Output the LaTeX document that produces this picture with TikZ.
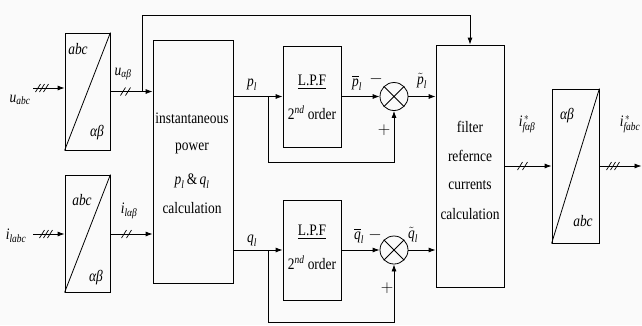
\documentclass[tikz,border=0pt]{standalone}
\usepackage{amsmath}
\usepackage{fontspec}
\setmainfont{Liberation Serif}
\usetikzlibrary{arrows.meta}
\newcommand{\vi}[1]{\textit{#1}}
\newcommand{\cn}[1]{\scalebox{0.84}[1]{#1}}
\begin{document}
\begin{tikzpicture}[x=1pt,y=-1pt, font=\fontsize{16}{18}\selectfont,
  line width=0.8pt,
  blk/.style={draw, inner sep=0pt},
  arr/.style={-{Latex[length=7pt,width=5pt]}},
  sumnode/.style={draw, circle, minimum size=28pt, inner sep=0pt},
  lbl/.style={inner sep=0pt},
  tk/.pic={\draw[line width=0.7pt] (-2.5,4) -- (2.5,-4);}]
\fill[white!98!black] (0,0) rectangle (642,325);
\useasboundingbox (0,0) rectangle (642,325);

% abc -> alpha beta blocks
\node[blk, minimum width=45pt, minimum height=117pt] (t1) at (87.5,91.5) {};
\draw (t1.south west) -- (t1.north east);
\node[lbl] (t1a) at (78,49) {\cn{\vi{abc}}};
\node[lbl] (t1b) at (97,133) {\cn{\vi{αβ}}};

\node[blk, minimum width=45pt, minimum height=117pt] (t2) at (87.5,233.5) {};
\draw (t2.south west) -- (t2.north east);
\node[lbl] (t2a) at (82,200) {\cn{\vi{abc}}};
\node[lbl] (t2b) at (96,278) {\cn{\vi{αβ}}};

% instantaneous power block
\node[blk, minimum width=80pt, minimum height=243pt] (ip) at (193,161.5) {};
\node[lbl] (ip1) at (192,118) {\cn{instantaneous}};
\node[lbl] (ip2) at (192,148) {\cn{power}};
\node[lbl] (ip3) at (192,181) {\cn{$\vi{p}_{\vi{l}}\,\&\,\vi{q}_{\vi{l}}$}};
\node[lbl] (ip4) at (192,208) {\cn{calculation}};

% LPF blocks
\node[blk, minimum width=58pt, minimum height=101pt] (l1) at (312,96.5) {};
\node[lbl] (l1a) at (312,82) {\cn{\underline{L.P.F}}};
\node[lbl] (l1b) at (312,113) {\cn{2\textsuperscript{\itshape nd} order}};
\node[blk, minimum width=58pt, minimum height=100pt] (l2) at (312,250) {};
\node[lbl] (l2a) at (312,232) {\cn{\underline{L.P.F}}};
\node[lbl] (l2b) at (312,263) {\cn{2\textsuperscript{\itshape nd} order}};

% summing junctions
\node[sumnode] (s1) at (394,96.5) {};
\draw (s1.45) -- (s1.225) (s1.135) -- (s1.-45);
\node[sumnode] (s2) at (394,250) {};
\draw (s2.45) -- (s2.225) (s2.135) -- (s2.-45);

% filter reference block
\node[blk, minimum width=68pt, minimum height=242pt] (ff) at (470,166) {};
\node[lbl] (ff1) at (470,127) {\cn{filter}};
\node[lbl] (ff2) at (470,156) {\cn{refernce}};
\node[lbl] (ff3) at (470,185) {\cn{currents}};
\node[lbl] (ff4) at (470,214) {\cn{calculation}};

% alpha beta -> abc block
\node[blk, minimum width=47pt, minimum height=154pt] (t3) at (575.5,166) {};
\draw (t3.south west) -- (t3.north east);
\node[lbl] (t3a) at (567,116) {\cn{\vi{αβ}}};
\node[lbl] (t3b) at (583,221) {\cn{\vi{abc}}};

% connectors
\coordinate (uin) at (33,88);
\draw[arr] (uin) -- (uin -| t1.west);
\coordinate (iin) at (33,234);
\draw[arr] (iin) -- (iin -| t2.west);
\draw[arr] (t1.east) -- (t1.east -| ip.west);
\draw[arr] (t2.east |- iin) -- (iin -| ip.west);
\coordinate (bt) at (142,91.5);
\draw[arr] (bt) -- (142,15) -| (ff.north);

\draw[arr] (ip.east |- l1.west) -- (l1.west);
\coordinate (bp) at (268,96.5);
\draw[arr] (bp) -- (268,162) -| (s1.south);
\draw[arr] (l1.east) -- (s1.west);
\draw[arr] (s1.east) -- (s1.east -| ff.west);

\draw[arr] (ip.east |- l2.west) -- (l2.west);
\coordinate (bq) at (268,250);
\draw[arr] (bq) -- (268,322) -| (s2.south);
\draw[arr] (l2.east) -- (s2.west);
\draw[arr] (s2.east) -- (s2.east -| ff.west);

\draw[arr] (ff.east |- t3.west) -- (t3.west);
\coordinate (out) at (641.5,166);
\draw[arr] (t3.east) -- (out);

% slash marks
\pic at (38,88) {tk}; \pic at (42,88) {tk}; \pic at (46,88) {tk};
\pic at (123,91.5) {tk}; \pic at (128,91.5) {tk};
\pic at (42,234) {tk}; \pic at (46,234) {tk}; \pic at (50,234) {tk};
\pic at (124,234) {tk}; \pic at (129,234) {tk};
\pic at (520,166) {tk}; \pic at (525,166) {tk};
\pic at (609,166) {tk}; \pic at (613,166) {tk}; \pic at (617,166) {tk};

% labels
\node[lbl] (lu) at (20,100) {\cn{$\vi{u}_{\vi{abc}}$}};
\node[lbl] (lua) at (123,74) {\cn{$\vi{u}_{\vi{αβ}}$}};
\node[lbl] (li) at (16,236) {\cn{$\vi{i}_{\vi{labc}}$}};
\node[lbl] (lia) at (129,211) {\cn{$\vi{i}_{\vi{lαβ}}$}};
\node[lbl] (lp) at (252,85) {\cn{$\vi{p}_{\vi{l}}$}};
\node[lbl] (lq) at (252,241) {\cn{$\vi{q}_{\vi{l}}$}};
\node[lbl] (lpb) at (357,83) {\cn{$\overline{\vi{p}}_{\vi{l}}$}};
\node[lbl] (lqb) at (359,236) {\cn{$\overline{\vi{q}}_{\vi{l}}$}};
\node[lbl] (lpt) at (422,81) {\cn{$\tilde{\vi{p}}_{\vi{l}}$}};
\node[lbl] (lqt) at (413,235) {\cn{$\tilde{\vi{q}}_{\vi{l}}$}};
\node[lbl] (m1) at (376,79) {$-$};
\node[lbl] (p1) at (384,130) {$+$};
\node[lbl] (m2) at (375,235) {$-$};
\node[lbl] (p2) at (387,288) {$+$};
\node[lbl] (lfa) at (527,124) {\cn{$\vi{i}^{\,*}_{\vi{fαβ}}$}};
\node[lbl] (lfo) at (630,124) {\cn{$\vi{i}^{\,*}_{\vi{fabc}}$}};
\end{tikzpicture}
\end{document}
